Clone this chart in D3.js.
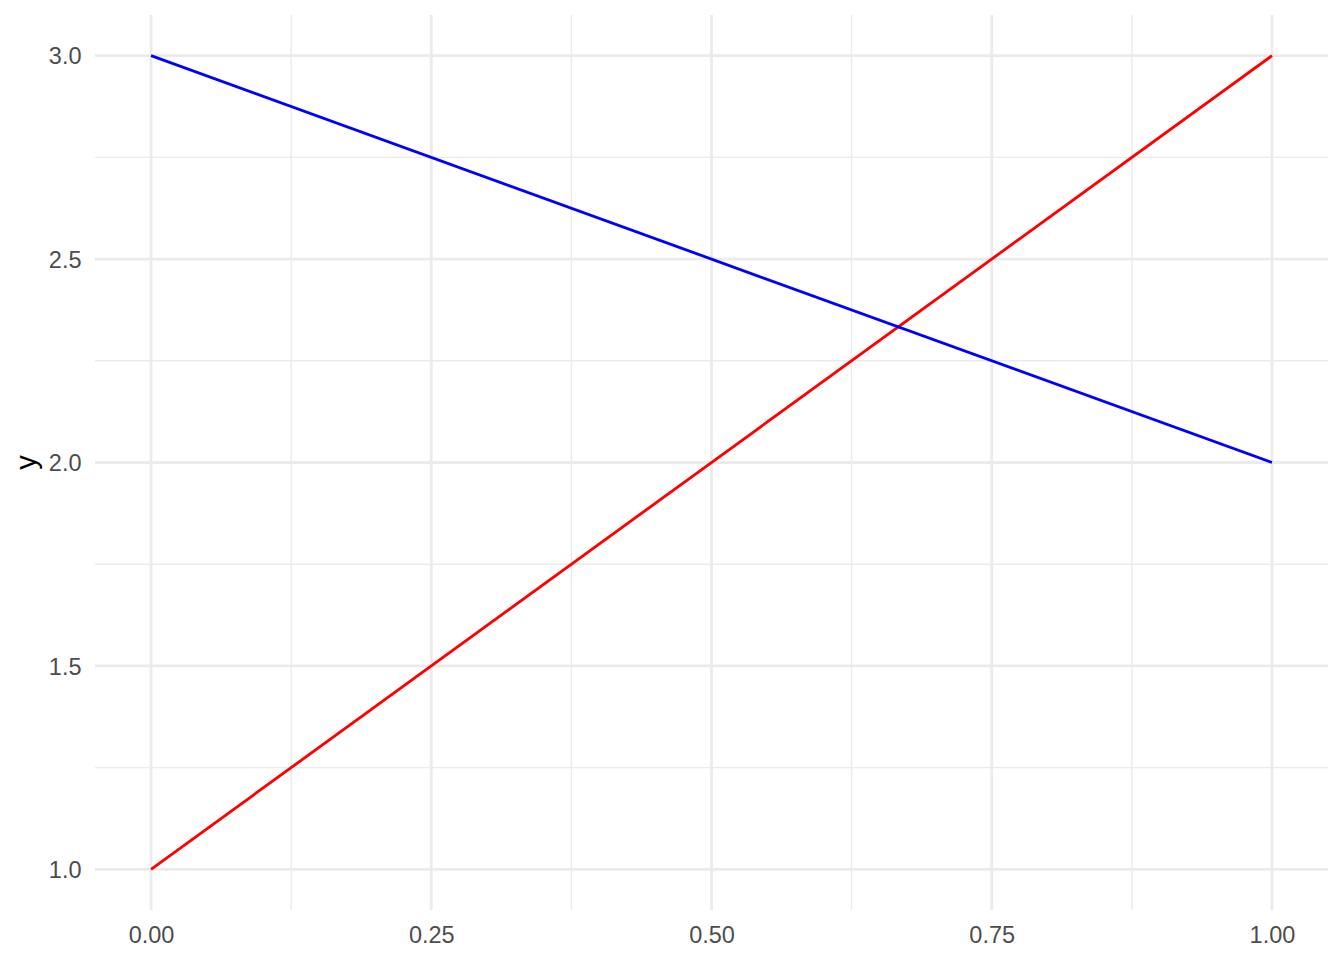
<!DOCTYPE html>
<html><head><meta charset="utf-8">
<script src="https://d3js.org/d3.v7.min.js"></script>
<style>body{margin:0;background:#fff}</style>
</head><body>
<script>
const redX = [0, 1];
const redY = [1, 3];
const blueX = [0, 1];
const blueY = [3, 2];
const xTicks = [0, 0.25, 0.5, 0.75, 1];
const xMinor = [0.125, 0.375, 0.625, 0.875];
const yTicks = [1, 1.5, 2, 2.5, 3];
const yMinor = [1.25, 1.75, 2.25, 2.75];

const W = 1344, H = 960;
const pl = 95, pr = 1328, pt = 15, pb = 910;
const x = d3.scaleLinear().domain([-0.05, 1.05]).range([pl, pr]);
const y = d3.scaleLinear().domain([0.9, 3.1]).range([pb, pt]);

const svg = d3.select("body").append("svg").attr("width", W).attr("height", H);
const grid = svg.append("g");
grid.selectAll(".xmin").data(xMinor).join("line")
  .attr("x1", d => x(d)).attr("x2", d => x(d)).attr("y1", pt).attr("y2", pb)
  .attr("stroke", "#EBEBEB").attr("stroke-width", 1.42);
grid.selectAll(".ymin").data(yMinor).join("line")
  .attr("y1", d => y(d)).attr("y2", d => y(d)).attr("x1", pl).attr("x2", pr)
  .attr("stroke", "#EBEBEB").attr("stroke-width", 1.42);
grid.selectAll(".xmaj").data(xTicks).join("line")
  .attr("x1", d => x(d)).attr("x2", d => x(d)).attr("y1", pt).attr("y2", pb)
  .attr("stroke", "#EBEBEB").attr("stroke-width", 2.84);
grid.selectAll(".ymaj").data(yTicks).join("line")
  .attr("y1", d => y(d)).attr("y2", d => y(d)).attr("x1", pl).attr("x2", pr)
  .attr("stroke", "#EBEBEB").attr("stroke-width", 2.84);

const line = d3.line().x(d => x(d[0])).y(d => y(d[1]));
svg.append("path").datum(redX.map((v, i) => [v, redY[i]]))
  .attr("d", line).attr("fill", "none").attr("stroke", "#FF0000").attr("stroke-width", 2.84);
svg.append("path").datum(blueX.map((v, i) => [v, blueY[i]]))
  .attr("d", line).attr("fill", "none").attr("stroke", "#0000FF").attr("stroke-width", 2.84);

const font = "Liberation Sans, Arial, sans-serif";
const xAxis = d3.axisBottom(x).tickValues(xTicks).tickFormat(d3.format(".2f")).tickSize(0).tickPadding(0);
const gx = svg.append("g").attr("transform", `translate(0,${pb})`).call(xAxis);
gx.select(".domain").remove();
gx.selectAll("text").attr("fill", "#4D4D4D").attr("font-size", 23.5).attr("font-family", font)
  .attr("dy", "0.35em").attr("y", 24.5);

const yAxis = d3.axisLeft(y).tickValues(yTicks).tickFormat(d3.format(".1f")).tickSize(0).tickPadding(0);
const gy = svg.append("g").attr("transform", `translate(${pl},0)`).call(yAxis);
gy.select(".domain").remove();
gy.selectAll("text").attr("fill", "#4D4D4D").attr("font-size", 23.5).attr("font-family", font)
  .attr("x", -13.5).attr("dy", "0.35em");

svg.append("text").attr("transform", `translate(35.7,${(pt + pb) / 2}) rotate(-90)`)
  .attr("text-anchor", "middle").attr("font-size", 29.3).attr("font-family", font)
  .attr("fill", "#000").text("y");
</script>
</body></html>
